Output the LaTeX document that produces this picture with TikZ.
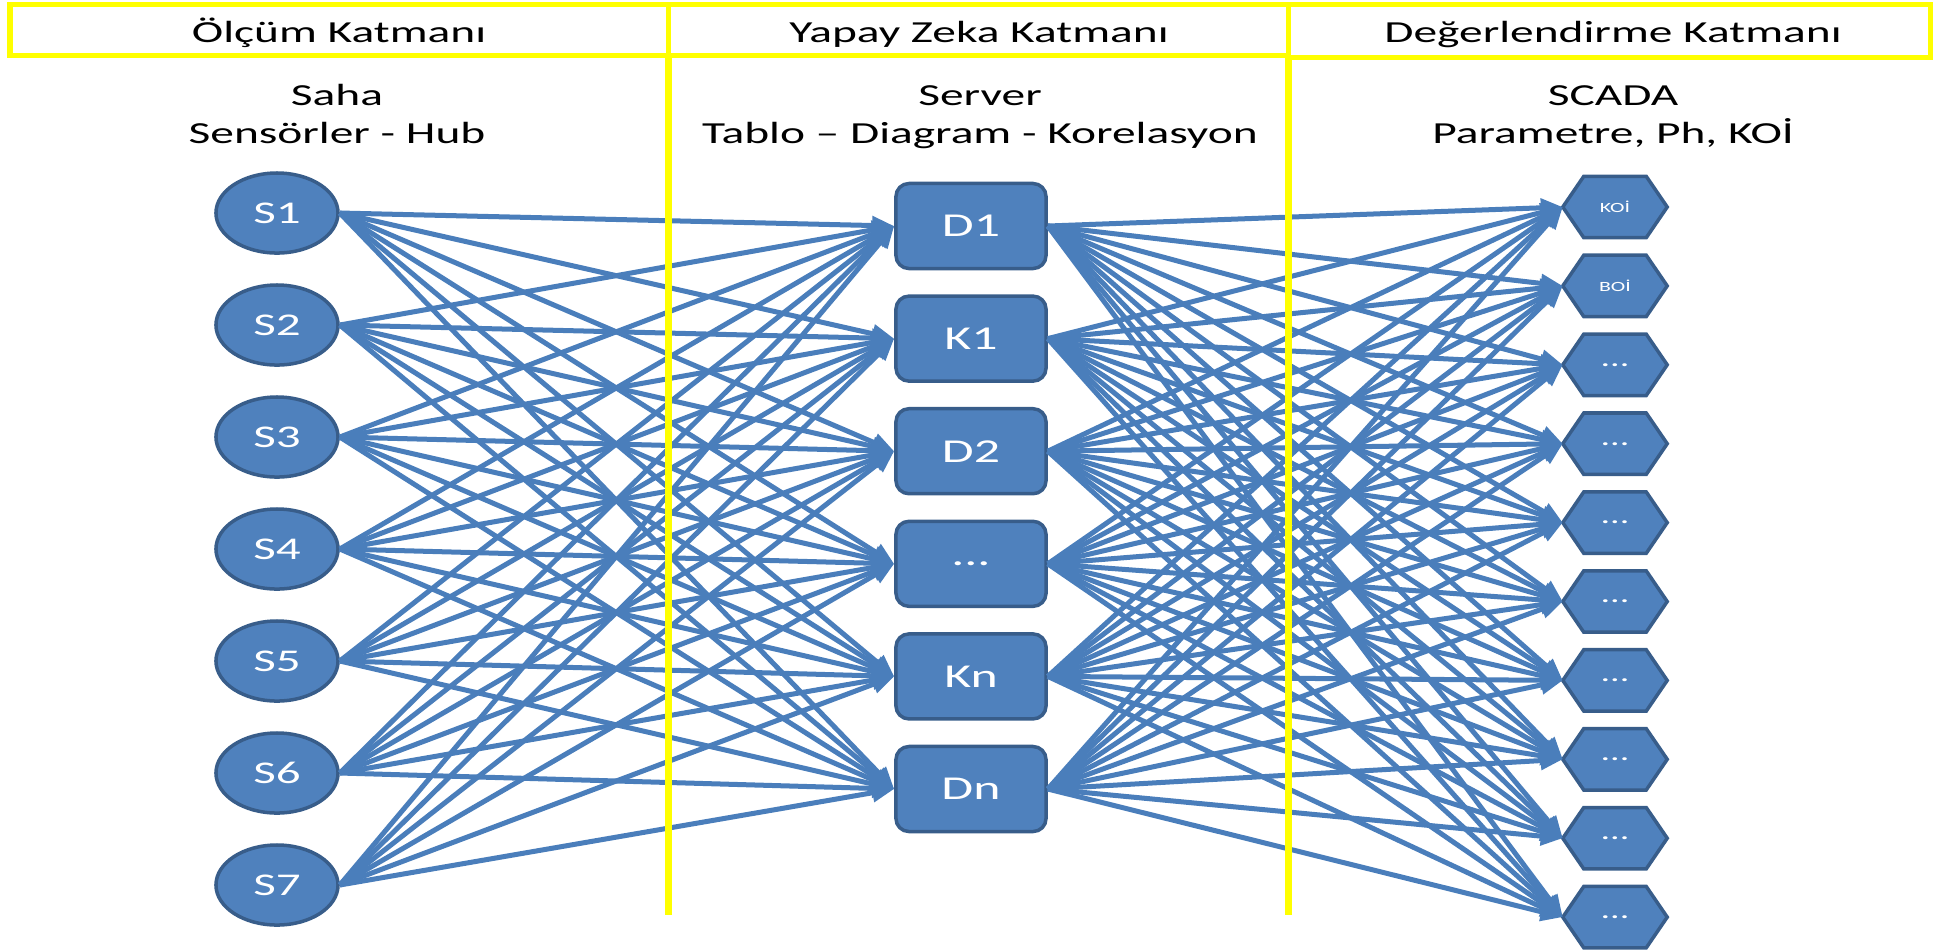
\documentclass[tikz,border=0pt]{standalone}
\usepackage{fontspec}
\setmainfont{Carlito}[FakeStretch=1.55]
\usetikzlibrary{arrows.meta,shapes.geometric,backgrounds}
\definecolor{nodeblue}{HTML}{4F81BD}
\definecolor{nodeedge}{HTML}{385D8A}
\definecolor{linkblue}{HTML}{4A7EBB}
\definecolor{hdryellow}{HTML}{FFFF00}
\begin{document}
\begin{tikzpicture}[x=0.01cm,y=-0.01cm,
  hdr/.style={draw=hdryellow, line width=0.05cm},
  sepline/.style={draw=hdryellow, line width=0.07cm},
  lbl/.style={font=\fontsize{8.7}{10.8}\selectfont, text=black, inner sep=0pt, anchor=base, align=center},
  sensor/.style={ellipse, fill=nodeblue, draw=nodeedge, line width=0.035cm, minimum width=1.22cm, minimum height=0.80cm, inner sep=0pt, text=white, font=\fontsize{9}{10}\selectfont},
  proc/.style={rectangle, rounded corners=0.13cm, fill=nodeblue, draw=nodeedge, line width=0.035cm, minimum width=1.50cm, minimum height=0.85cm, inner sep=0pt, text=white, font=\fontsize{9.5}{11}\selectfont},
  outbox/.style={rectangle, minimum width=1.03cm, minimum height=0.60cm, inner sep=0pt, text=white, font=\fontsize{7}{8}\selectfont},
  smalltxt/.style={font=\fontsize{4}{5}\selectfont},
  hexfill/.style={fill=nodeblue, draw=nodeedge, line width=0.035cm, line join=miter},
  link/.style={draw=linkblue, line width=0.05cm, -{Triangle[length=0.22cm,width=0.18cm]}},
]
\useasboundingbox (0,0) rectangle (1938,950);

% sensors
\foreach \k in {1,...,7}
  \node[sensor] (s\k) at (277,{213+112*(\k-1)}) {S\k};

% processing nodes
\node[proc] (m1) at (971,226) {D1};
\node[proc] (m2) at (971,338.6) {K1};
\node[proc] (m3) at (971,451.2) {D2};
\node[proc] (m4) at (971,563.8) {...};
\node[proc] (m5) at (971,676.4) {Kn};
\node[proc] (m6) at (971,789) {Dn};

% output nodes
\node[outbox,smalltxt] (h1) at (1615,207) {KOİ};
\node[outbox,smalltxt] (h2) at (1615,285.9) {BOİ};
\node[outbox] (h3) at (1615,364.8) {...};
\node[outbox] (h4) at (1615,443.7) {...};
\node[outbox] (h5) at (1615,522.6) {...};
\node[outbox] (h6) at (1615,601.5) {...};
\node[outbox] (h7) at (1615,680.4) {...};
\node[outbox] (h8) at (1615,759.3) {...};
\node[outbox] (h9) at (1615,838.2) {...};
\node[outbox] (h10) at (1615,917.1) {...};
\begin{scope}[on background layer]
\foreach \h in {1,...,10}
  \path[hexfill] (h\h.west) -- ([xshift=0.21cm]h\h.north west) -- ([xshift=-0.21cm]h\h.north east)
    -- (h\h.east) -- ([xshift=-0.21cm]h\h.south east) -- ([xshift=0.21cm]h\h.south west) -- cycle;
\end{scope}

% connectors
\foreach \s in {1,...,7}
  \foreach \m in {1,...,6}
    \draw[link] (s\s.east) -- (m\m.west);
\foreach \m in {1,...,6}
  \foreach \h in {1,...,10}
    \draw[link] (m\m.east) -- (h\h.west);

% headers
\draw[hdr] (10,4) rectangle (668,55);
\draw[hdr] (668,4) rectangle (1288,55);
\draw[hdr] (1288,4) rectangle (1930,57);
\coordinate (v1top) at (668,55);
\coordinate (v1bot) at (668,915);
\coordinate (v2top) at (1288,57);
\coordinate (v2bot) at (1288,915);
\draw[sepline] (v1top) -- (v1bot);
\draw[sepline] (v2top) -- (v2bot);

\node[lbl] (t1) at (339,42) {Ölçüm Katmanı};
\node[lbl] (t2) at (979,42) {Yapay Zeka Katmanı};
\node[lbl] (t3) at (1613,42) {Değerlendirme Katmanı};

\node[lbl] (u1) at (337,143) {Saha\\Sensörler - Hub};
\node[lbl] (u2) at (980,143) {Server\\Tablo – Diagram - Korelasyon};
\node[lbl] (u3) at (1613,143) {SCADA\\Parametre, Ph, KOİ};
\end{tikzpicture}
\end{document}
